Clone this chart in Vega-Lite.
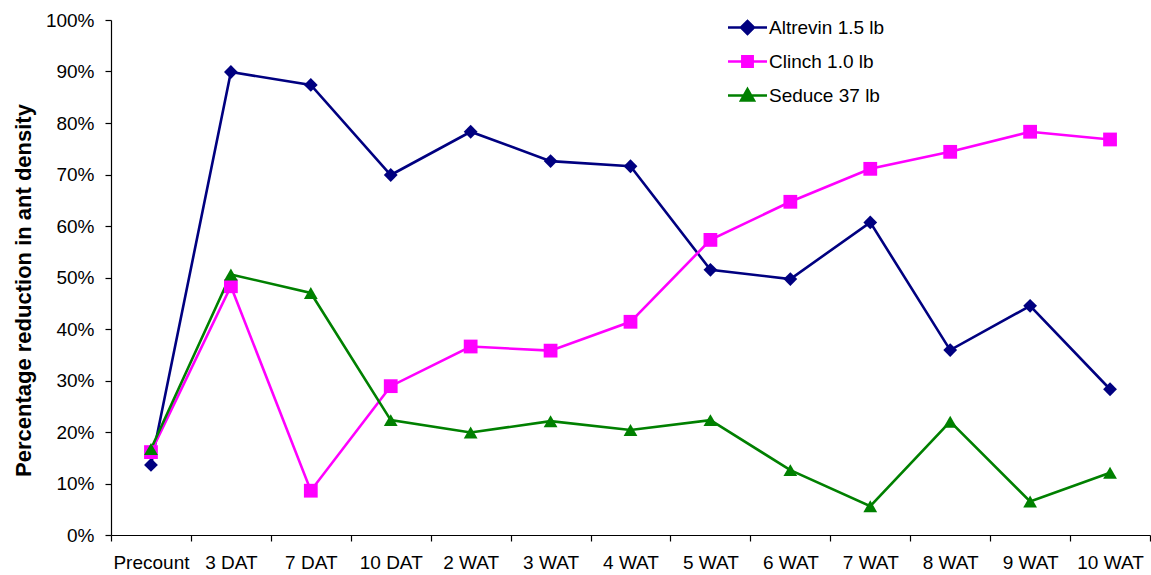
{
  "$schema": "https://vega.github.io/schema/vega-lite/v6.json",
  "width": 1039,
  "height": 515,
  "autosize": "none",
  "padding": {"left": 111, "top": 20, "right": 1, "bottom": 40},
  "data": {
    "values": [
      {"time": "Precount", "series": "Altrevin 1.5 lb", "value": 0.136},
      {"time": "3 DAT", "series": "Altrevin 1.5 lb", "value": 0.899},
      {"time": "7 DAT", "series": "Altrevin 1.5 lb", "value": 0.874},
      {"time": "10 DAT", "series": "Altrevin 1.5 lb", "value": 0.699},
      {"time": "2 WAT", "series": "Altrevin 1.5 lb", "value": 0.783},
      {"time": "3 WAT", "series": "Altrevin 1.5 lb", "value": 0.726},
      {"time": "4 WAT", "series": "Altrevin 1.5 lb", "value": 0.716},
      {"time": "5 WAT", "series": "Altrevin 1.5 lb", "value": 0.515},
      {"time": "6 WAT", "series": "Altrevin 1.5 lb", "value": 0.497},
      {"time": "7 WAT", "series": "Altrevin 1.5 lb", "value": 0.607},
      {"time": "8 WAT", "series": "Altrevin 1.5 lb", "value": 0.359},
      {"time": "9 WAT", "series": "Altrevin 1.5 lb", "value": 0.445},
      {"time": "10 WAT", "series": "Altrevin 1.5 lb", "value": 0.283},
      {"time": "Precount", "series": "Clinch 1.0 lb", "value": 0.161},
      {"time": "3 DAT", "series": "Clinch 1.0 lb", "value": 0.483},
      {"time": "7 DAT", "series": "Clinch 1.0 lb", "value": 0.086},
      {"time": "10 DAT", "series": "Clinch 1.0 lb", "value": 0.289},
      {"time": "2 WAT", "series": "Clinch 1.0 lb", "value": 0.366},
      {"time": "3 WAT", "series": "Clinch 1.0 lb", "value": 0.358},
      {"time": "4 WAT", "series": "Clinch 1.0 lb", "value": 0.414},
      {"time": "5 WAT", "series": "Clinch 1.0 lb", "value": 0.573},
      {"time": "6 WAT", "series": "Clinch 1.0 lb", "value": 0.647},
      {"time": "7 WAT", "series": "Clinch 1.0 lb", "value": 0.711},
      {"time": "8 WAT", "series": "Clinch 1.0 lb", "value": 0.744},
      {"time": "9 WAT", "series": "Clinch 1.0 lb", "value": 0.783},
      {"time": "10 WAT", "series": "Clinch 1.0 lb", "value": 0.768},
      {"time": "Precount", "series": "Seduce 37 lb", "value": 0.167},
      {"time": "3 DAT", "series": "Seduce 37 lb", "value": 0.506},
      {"time": "7 DAT", "series": "Seduce 37 lb", "value": 0.470},
      {"time": "10 DAT", "series": "Seduce 37 lb", "value": 0.223},
      {"time": "2 WAT", "series": "Seduce 37 lb", "value": 0.199},
      {"time": "3 WAT", "series": "Seduce 37 lb", "value": 0.221},
      {"time": "4 WAT", "series": "Seduce 37 lb", "value": 0.204},
      {"time": "5 WAT", "series": "Seduce 37 lb", "value": 0.223},
      {"time": "6 WAT", "series": "Seduce 37 lb", "value": 0.126},
      {"time": "7 WAT", "series": "Seduce 37 lb", "value": 0.056},
      {"time": "8 WAT", "series": "Seduce 37 lb", "value": 0.220},
      {"time": "9 WAT", "series": "Seduce 37 lb", "value": 0.065},
      {"time": "10 WAT", "series": "Seduce 37 lb", "value": 0.121}
    ]
  },
  "encoding": {
    "x": {
      "field": "time",
      "type": "ordinal",
      "sort": ["Precount", "3 DAT", "7 DAT", "10 DAT", "2 WAT", "3 WAT", "4 WAT", "5 WAT", "6 WAT", "7 WAT", "8 WAT", "9 WAT", "10 WAT"],
      "scale": {"type": "band", "paddingInner": 0, "paddingOuter": 0},
      "bandPosition": 0.5,
      "axis": {"title": null, "tickBand": "extent", "labelAngle": 0, "labelFontSize": 19, "tickSize": 6, "labelPadding": 12}
    },
    "y": {
      "field": "value",
      "type": "quantitative",
      "scale": {"domain": [0, 1], "nice": false},
      "axis": {
        "format": ".0%",
        "values": [0, 0.1, 0.2, 0.3, 0.4, 0.5, 0.6, 0.7, 0.8, 0.9, 1],
        "grid": false,
        "title": "Percentage reduction in ant density",
        "titleFontSize": 22,
        "titleFontWeight": "bold",
        "titlePadding": 10,
        "titleY": 270,
        "labelFontSize": 19,
        "tickSize": 6,
        "labelPadding": 11
      }
    }
  },
  "layer": [
    {
      "mark": {"type": "line", "strokeWidth": 2.6},
      "encoding": {
        "color": {
          "field": "series",
          "type": "nominal",
          "scale": {"domain": ["Altrevin 1.5 lb", "Clinch 1.0 lb", "Seduce 37 lb"], "range": ["#000080", "#FF00FF", "#008000"]},
          "legend": null
        }
      }
    },
    {
      "mark": {"type": "point", "filled": true, "size": 190, "opacity": 1},
      "encoding": {
        "color": {
          "field": "series",
          "type": "nominal",
          "scale": {"domain": ["Altrevin 1.5 lb", "Clinch 1.0 lb", "Seduce 37 lb"], "range": ["#000080", "#FF00FF", "#008000"]},
          "legend": null
        },
        "shape": {
          "field": "series",
          "type": "nominal",
          "scale": {"domain": ["Altrevin 1.5 lb", "Clinch 1.0 lb", "Seduce 37 lb"], "range": ["diamond", "square", "triangle-up"]},
          "legend": null
        }
      }
    },
    {
      "mark": {"type": "point", "filled": true, "size": 169, "opacity": 0},
      "encoding": {
        "color": {
          "field": "series",
          "type": "nominal",
          "scale": {"domain": ["Altrevin 1.5 lb", "Clinch 1.0 lb", "Seduce 37 lb"], "range": ["#000080", "#FF00FF", "#008000"]}
        },
        "stroke": {
          "field": "series",
          "type": "nominal",
          "scale": {"domain": ["Altrevin 1.5 lb", "Clinch 1.0 lb", "Seduce 37 lb"], "range": ["#000080", "#FF00FF", "#008000"]}
        },
        "shape": {
          "field": "series",
          "type": "nominal",
          "scale": {
            "domain": ["Altrevin 1.5 lb", "Clinch 1.0 lb", "Seduce 37 lb"],
            "range": [
              "M-3,0H3M-1,0L0,-1L1,0L0,1Z",
              "M-3,0H3M-0.8,-0.8H0.8V0.8H-0.8Z",
              "M-3,0H3M0,-1L1,0.75H-1Z"
            ]
          }
        }
      }
    }
  ],
  "resolve": {"scale": {"shape": "independent", "color": "independent", "stroke": "independent"}, "legend": {"shape": "independent", "color": "independent", "stroke": "independent"}},
  "config": {
    "view": {"stroke": null},
    "font": "Liberation Sans",
    "axis": {"labelFont": "Liberation Sans", "titleFont": "Liberation Sans", "labelColor": "#000", "titleColor": "#000", "domainColor": "#000", "tickColor": "#000", "domainWidth": 1.2, "tickWidth": 1.2},
    "legend": {
      "title": null,
      "orient": "none",
      "legendX": 627,
      "legendY": -2,
      "labelFontSize": 19,
      "labelFont": "Liberation Sans",
      "labelColor": "#000",
      "symbolSize": 169,
      "symbolStrokeWidth": 2.5,
      "symbolOpacity": 1,
      "rowPadding": 12,
      "labelOffset": 12
    }
  }
}
